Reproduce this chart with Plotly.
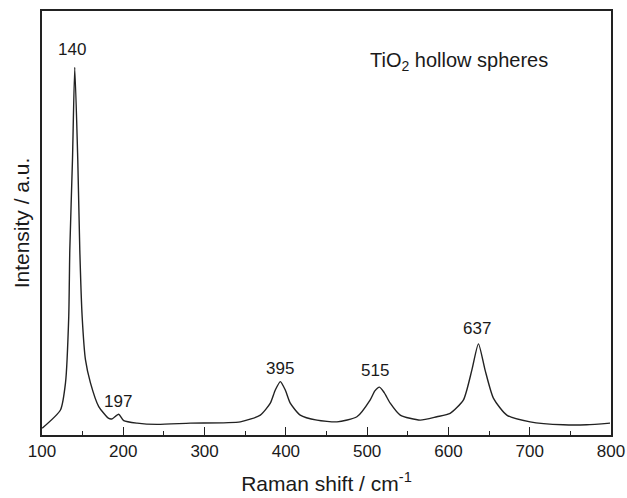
import plotly.graph_objects as go

# Raman spectrum (wavenumber, intensity a.u.)
raman_shift = [100.2, 122.7, 128.9, 132.9, 134.2, 137.5, 140.3, 144.0, 146.5, 149.4,
               153.5, 159.6, 169.8, 182.1, 186.3, 194.4, 200.5, 217.0, 241.6, 282.5,
               344.0, 368.6, 380.9, 387.0, 393.2, 399.3, 405.4, 417.7, 438.3, 462.9,
               487.4, 503.8, 509.5, 515.2, 521.0, 528.4, 540.7, 565.2, 585.8, 602.1,
               618.5, 628.8, 636.9, 645.1, 655.3, 671.8, 700.5, 741.4, 770.1, 798.8]
intensity = [1.6, 5.9, 12.3, 27.9, 43.6, 64.9, 86.7, 64.9, 43.6, 27.9,
             17.7, 12.3, 6.7, 3.9, 3.8, 4.9, 3.4, 2.8, 2.5, 2.8,
             3.1, 4.7, 7.5, 10.6, 12.6, 10.6, 7.5, 4.7, 3.5, 3.1,
             4.3, 8.3, 10.4, 11.3, 10.0, 7.5, 4.7, 3.5, 4.3, 5.1,
             8.3, 15.3, 21.5, 15.3, 8.7, 4.7, 3.1, 2.4, 2.4, 2.8]

peak_labels = ["140", "197", "395", "515", "637"]
peak_label_x = [137.5, 194.0, 392.6, 509.3, 635.3]
peak_label_y = [91.0, 7.9, 15.8, 15.3, 25.2]

x_ticks = [100, 200, 300, 400, 500, 600, 700, 800]

FONT = "Liberation Sans, Arial, sans-serif"
TXT = "#1a1a1a"

fig = go.Figure()
fig.add_trace(go.Scatter(
    x=raman_shift, y=intensity, mode="lines",
    line=dict(color="#222222", width=1.4, shape="spline", smoothing=0.6),
    showlegend=False, hoverinfo="skip"))

for t, xx, yy in zip(peak_labels, peak_label_x, peak_label_y):
    fig.add_annotation(x=xx, y=yy, text=t, showarrow=False,
                       font=dict(family=FONT, size=17, color=TXT),
                       xanchor="center", yanchor="middle")

fig.add_annotation(x=613.2, y=88.0, text="TiO<sub>2</sub> hollow spheres", showarrow=False,
                   font=dict(family=FONT, size=20, color=TXT),
                   xanchor="center", yanchor="middle")

fig.update_layout(
    width=627, height=498,
    margin=dict(l=42, r=16, t=11, b=63),
    paper_bgcolor="white", plot_bgcolor="white",
    font=dict(family=FONT, size=17, color=TXT),
)
fig.update_xaxes(
    range=[100, 800], tickvals=x_ticks, ticktext=[str(v) for v in x_ticks],
    ticks="inside", ticklen=8, tickwidth=1.3, tickcolor="#222",
    minor=dict(dtick=50, ticks="inside", ticklen=4, tickwidth=1.3, tickcolor="#222"),
    showline=True, linecolor="#222", linewidth=1.5, mirror=True,
    showgrid=False, zeroline=False, automargin=False,
    tickfont=dict(family=FONT, size=17, color=TXT),
    title=dict(text="Raman shift / cm<sup>-1</sup>", font=dict(family=FONT, size=21, color=TXT), standoff=16),
)
fig.update_yaxes(
    range=[0, 100], showticklabels=False, ticks="",
    showline=True, linecolor="#222", linewidth=1.5, mirror=True,
    showgrid=False, zeroline=False, automargin=False,
    title=dict(text="Intensity / a.u.", font=dict(family=FONT, size=21, color=TXT), standoff=5),
)

fig.write_html("out.html", config={"displayModeBar": False},
               post_script="document.body.style.margin='0';")
